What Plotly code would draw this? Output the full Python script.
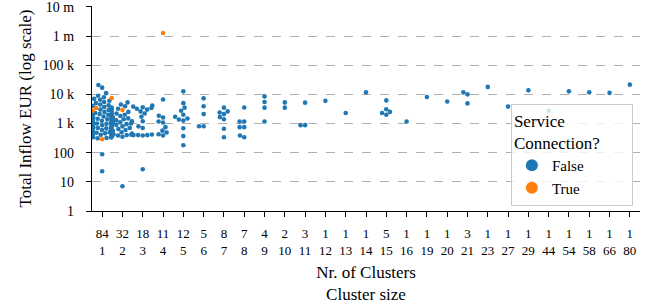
import numpy as np
import plotly.graph_objects as go

# ---------------- data ----------------
cluster_sizes = [1, 2, 3, 4, 5, 6, 7, 8, 9, 10, 11, 12, 13, 14, 15, 16, 19, 20, 21,
                 23, 27, 29, 44, 54, 58, 66, 80]
n_clusters = [84, 32, 18, 11, 12, 5, 8, 7, 4, 2, 3, 1, 1, 1, 5, 1, 1, 1, 3,
              1, 1, 1, 1, 1, 1, 1, 1]

inflow_false = [
    # size 1
    [21000, 17000, 11000, 9000, 8000, 7000, 6500, 6000, 5500, 5000, 4500, 4200, 4000,
     3700, 3500, 3200, 3000, 2900, 2700, 2500, 2400, 2300, 2200, 2100, 2000,
     1900, 1800, 1750, 1700, 1600, 1550, 1500, 1450, 1400, 1350, 1300, 1250, 1200,
     1150, 1100, 1050, 1000, 1000, 980, 950, 920, 900, 870, 850, 820, 800, 780, 750,
     720, 700, 680, 650, 620, 600, 580, 550, 520, 500, 480, 460, 440, 420, 410, 400,
     390, 380, 370, 360, 350, 340, 330, 320, 310, 88, 23],
    # size 2
    [5300, 4500, 3900, 3200, 2500, 2200, 2000, 1800, 1600, 1500, 1400, 1300, 1200,
     1100, 1050, 1000, 950, 900, 800, 700, 650, 600, 550, 500, 450, 420, 410, 400,
     390, 350, 7.1],
    # size 3
    [4100, 3800, 3600, 3400, 3200, 3000, 2600, 2200, 1700, 1200, 800, 700, 420, 400,
     400, 400, 390, 27],
    # size 4
    [6700, 1850, 1600, 1170, 1080, 750, 570, 490, 430, 390],
    # size 5
    [12700, 5000, 3500, 2750, 2000, 1700, 1480, 1380, 1260, 690, 370, 180],
    # size 6
    [7300, 3900, 2100, 810, 810],
    # size 7
    [3500, 2600, 2400, 2100, 1660, 1400, 660, 340],
    # size 8
    [3550, 1170, 1170, 750, 750, 390, 340],
    # size 9
    [8500, 5500, 3500, 1170],
    # size 10
    [5300, 3500],
    # size 11
    [5200, 880, 880],
    [6000], [2300], [11700],
    # size 15
    [6200, 3100, 2500, 2300, 2000],
    [1170], [8100], [5700],
    # size 21
    [11700, 10000, 4900],
    [18000], [3800], [13700], [2800], [12700], [11700], [11200], [21500],
]
# True (service connection) points: category index -> values
true_index = [0, 0, 0, 0, 1, 3]
inflow_true = [7500, 3400, 2750, 290, 2900, 1270000]

y_tickvals = [1, 10, 100, 1e3, 1e4, 1e5, 1e6, 1e7]
y_ticktext = ["1", "10", "100", "1 k", "10 k", "100 k", "1 m", "10 m"]

# ---------------- swarm layout (computed from data) ----------------
PX_PER_CAT = 548 / 27.0
PX_PER_DEC = 205 / 7.03
DIAM = 4.6
GUTTER = 0.47


def swarm_offsets(vals):
    ys = np.log10(np.asarray(vals, float)) * PX_PER_DEC
    order = np.argsort(ys, kind="stable")
    placed = []
    offs = np.zeros(len(ys))
    for i in order:
        y = ys[i]
        nb = [(px, py) for px, py in placed if abs(py - y) < DIAM]
        cands = [0.0]
        for px, py in nb:
            dx = np.sqrt(DIAM ** 2 - (py - y) ** 2)
            cands += [px - dx, px + dx]
        cands.sort(key=abs)
        chosen = cands[-1]
        for c in cands:
            if all((c - px) ** 2 + (y - py) ** 2 >= DIAM ** 2 - 1e-6 for px, py in nb):
                chosen = c
                break
        placed.append((chosen, y))
        offs[i] = chosen
    offs = offs / PX_PER_CAT
    return np.clip(offs, -GUTTER, GUTTER)


xs_f, ys_f, xs_t, ys_t = [], [], [], []
for ci in range(len(cluster_sizes)):
    fv = list(inflow_false[ci])
    tv = [v for k, v in zip(true_index, inflow_true) if k == ci]
    allv = fv + tv
    offs = swarm_offsets(allv)
    for j, v in enumerate(allv):
        if j < len(fv):
            xs_f.append(ci + offs[j]); ys_f.append(v)
        else:
            xs_t.append(ci + offs[j]); ys_t.append(v)

FONT = "Liberation Serif, Times New Roman, Times, serif"
fig = go.Figure()
fig.add_trace(go.Scatter(x=xs_f, y=ys_f, mode="markers", name="False",
                         marker=dict(color="#1f77b4", size=DIAM, line=dict(width=0))))
fig.add_trace(go.Scatter(x=xs_t, y=ys_t, mode="markers", name="True",
                         marker=dict(color="#ff7f0e", size=DIAM, line=dict(width=0))))

ticktext = [f"{n}<br>{s}" for n, s in zip(n_clusters, cluster_sizes)]
NB = "\u00a0" * 7

fig.update_layout(
    width=654, height=305,
    margin=dict(l=92, r=14, t=6, b=94, autoexpand=False),
    plot_bgcolor="white", paper_bgcolor="white",
    font=dict(family=FONT, color="black", size=13),
    showlegend=True,
    legend=dict(
        title=dict(text="Service<br>Connection?" + NB, font=dict(size=17, family=FONT)),
        font=dict(size=15, family=FONT),
        x=0.987, y=0.025, xanchor="right", yanchor="bottom",
        bgcolor="rgba(255,255,255,0.8)", bordercolor="#cccccc", borderwidth=1,
        itemsizing="constant",
    ),
    xaxis=dict(
        range=[-0.5, 26.5], tickmode="array", automargin=False,
        tickvals=list(range(len(cluster_sizes))), ticktext=ticktext,
        showgrid=False, zeroline=False, showline=True, linecolor="black", linewidth=1.2,
        ticks="outside", ticklen=5, tickcolor="black", tickwidth=1.2,
        tickfont=dict(size=13, family=FONT), ticklabelstandoff=5,
        title=dict(text="Nr. of Clusters<br>Cluster size", font=dict(size=17, family=FONT),
                   standoff=9),
    ),
    yaxis=dict(
        type="log", range=[0, 7.03], tickmode="array", automargin=False,
        tickvals=y_tickvals, ticktext=y_ticktext,
        showgrid=True, gridcolor="#b0b0b0", griddash="dash", gridwidth=1,
        zeroline=False, showline=True, linecolor="black", linewidth=1.2,
        ticks="outside", ticklen=5, tickcolor="black", tickwidth=1.2,
        tickfont=dict(size=14, family=FONT), ticklabelstandoff=9,
        ticklabeloverflow="allow",
        title=dict(text="Total Inflow EUR (log scale)", font=dict(size=17, family=FONT),
                   standoff=6),
    ),
)

fig.write_html("out.html", config={"displayModeBar": False},
               post_script="document.body.style.margin='0';")
